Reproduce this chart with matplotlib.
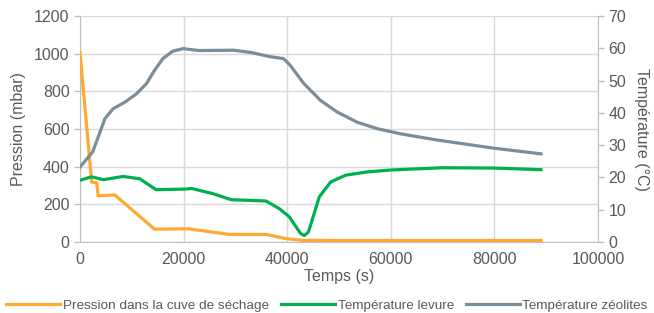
import matplotlib
matplotlib.use("Agg")
import matplotlib.pyplot as plt

plt.rcParams['font.family'] = ['Liberation Sans', 'DejaVu Sans']

# Pression dans la cuve de séchage (mbar, axe gauche)
t_pression = [0, 2250, 2350, 3250, 3500, 6700, 14400, 21000, 28800, 36000, 39700, 43000, 50000, 60000, 70000, 80000, 89000]
pression = [1005, 318, 318, 314, 245, 250, 68, 70, 40, 40, 18, 9, 8, 8, 8, 8, 8]

# Température levure (°C, axe droit)
t_levure = [0, 2200, 4500, 8300, 11500, 14700, 20500, 21500, 25600, 29200, 35900, 38500, 40400,
            42600, 43300, 44100, 46200, 48400, 51300, 55400, 60000, 70000, 80000, 89000]
temp_levure = [19.1, 20.2, 19.3, 20.3, 19.6, 16.2, 16.4, 16.6, 15.0, 13.1, 12.7, 10.3, 7.8,
               2.6, 2.0, 3.1, 14.0, 18.6, 20.7, 21.7, 22.3, 23.0, 22.9, 22.4]

# Température zéolites (°C, axe droit)
t_zeolites = [0, 2440, 3520, 4800, 6400, 8650, 10900, 12800, 14400, 16000, 17900, 19900, 23000,
              29600, 33000, 36700, 39300, 40600, 43200, 46400, 49600, 53500, 57400, 61900,
              68900, 79700, 89000]
temp_zeolites = [23.2, 27.9, 32.5, 38.2, 41.3, 43.3, 45.9, 49.0, 53.2, 56.8, 59.1, 59.9, 59.3,
                 59.4, 58.7, 57.4, 56.8, 54.7, 49.1, 43.9, 40.3, 37.1, 35.1, 33.5,
                 31.6, 29.1, 27.3]

c_orange = '#FFA935'
c_green = '#00B050'
c_gray = '#7A8D99'
c_text = '#595959'
c_grid = '#D9D9D9'
c_axis = '#BFBFBF'

fig = plt.figure(figsize=(6.54, 3.13), dpi=100)
ax = fig.add_axes([80 / 654, 1 - 242 / 313, 518 / 654, 226 / 313])
ax2 = ax.twinx()

l1, = ax.plot(t_pression, pression, color=c_orange, lw=2.3, zorder=3)
l2, = ax2.plot(t_levure, temp_levure, color=c_green, lw=2.3)
l3, = ax2.plot(t_zeolites, temp_zeolites, color=c_gray, lw=2.3)

ax.set_xlim(0, 100000)
ax.set_ylim(0, 1200)
ax2.set_ylim(0, 70)
ax.set_xticks(range(0, 100001, 20000))
ax.set_yticks(range(0, 1201, 200))
ax2.set_yticks(range(0, 71, 10))

ax.grid(True, color=c_grid, lw=1)
ax.set_axisbelow(True)

for a in (ax, ax2):
    for s in a.spines.values():
        s.set_visible(False)
    a.tick_params(colors=c_axis, labelcolor=c_text, labelsize=11.5, length=4, width=1)
ax.spines['left'].set_visible(True)
ax.spines['left'].set_color(c_axis)
ax.spines['bottom'].set_visible(True)
ax.spines['bottom'].set_color(c_axis)
ax2.spines['right'].set_visible(True)
ax2.spines['right'].set_color(c_axis)
ax.tick_params(axis='x', length=0, pad=7)

ax.set_xlabel("Temps (s)", color=c_text, fontsize=11.5, labelpad=2)
ax.set_ylabel("Pression (mbar)", color=c_text, fontsize=11.5, labelpad=6)
ax2.set_ylabel("Température (°C)", color=c_text, fontsize=11.5, rotation=-90, labelpad=16)

fig.legend([l1, l2, l3],
           ["Pression dans la cuve de séchage", "Température levure", "Température zéolites"],
           loc='lower center', bbox_to_anchor=(0.5, -0.035), ncol=3, frameon=False,
           fontsize=9.7, handlelength=4.0, columnspacing=0.9, handletextpad=0.2,
           labelcolor=c_text)

fig.savefig("out.png", dpi=100)
